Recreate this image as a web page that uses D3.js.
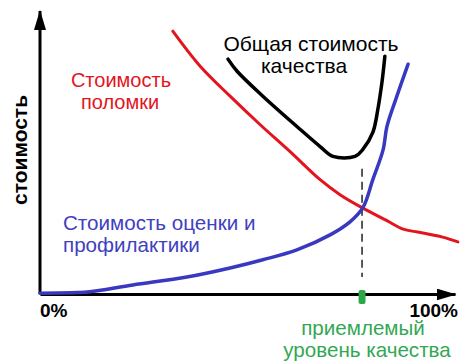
<!DOCTYPE html>
<html>
<head>
<meta charset="utf-8">
<script src="https://cdn.jsdelivr.net/npm/d3@7"></script>
<style>
  body { margin: 0; background: #fff; }
  text { font-family: "Liberation Sans", Arial, sans-serif; }
</style>
</head>
<body>
<svg id="chart" width="474" height="364"></svg>
<script>
// quality level (%) vs cost (relative units)
var failX = [32.0, 38.6, 45.8, 53.0, 60.2, 67.5, 72.3, 77.6, 83.6, 87.5, 91.0, 97.0, 100.7];
var failY = [92.9, 80.5, 69.9, 59.9, 50.4, 40.4, 35.1, 30.5, 25.9, 22.9, 21.9, 20.1, 18.4];

var totalX = [45.3, 47.5, 53.7, 61.9, 67.5, 70.6, 75.9, 77.8, 80.2, 81.4, 82.4, 83.1];
var totalY = [83.0, 78.7, 69.9, 59.2, 52.1, 48.6, 48.6, 51.1, 57.1, 65.2, 74.8, 84.0];

var prevX = [0, 9.0, 12.0, 22.4, 35.4, 45.8, 53.7, 61.9, 69.9, 74.7, 77.8, 80.2, 82.7, 83.6, 86.0, 88.7];
var prevY = [0.3, 0.5, 0.8, 3.2, 6.0, 9.2, 12.1, 15.6, 20.9, 25.5, 30.5, 40.4, 51.1, 59.2, 69.9, 81.2];

var optimumX = 77.6;          // acceptable quality level
var tickLabels = ["0%", "100%"];

var svg = d3.select("#chart");

var x = d3.scaleLinear().domain([0, 100]).range([40, 455]);
var y = d3.scaleLinear().domain([0, 100]).range([294, 11]);

var defs = svg.append("defs");
defs.append("marker")
    .attr("id", "arrow")
    .attr("markerUnits", "userSpaceOnUse")
    .attr("markerWidth", 20).attr("markerHeight", 12)
    .attr("refX", 19).attr("refY", 6)
    .attr("orient", "auto")
  .append("path")
    .attr("d", "M0,0 L20,6 L0,12 Z")
    .attr("fill", "#000");

// axes: only the lines with arrow heads, no ticks
var xAxis = svg.append("g")
    .attr("transform", "translate(0," + y(0) + ")")
    .call(d3.axisBottom(x).tickValues([]).tickSizeOuter(0));
xAxis.select(".domain")
    .attr("stroke", "#000").attr("stroke-width", 3)
    .attr("marker-end", "url(#arrow)");

var yAxis = svg.append("g")
    .attr("transform", "translate(" + x(0) + ",0)")
    .call(d3.axisLeft(y).tickValues([]).tickSizeOuter(0));
yAxis.select(".domain")
    .attr("d", "M0," + y(0) + "V" + y(100))
    .attr("stroke", "#000").attr("stroke-width", 3)
    .attr("marker-end", "url(#arrow)");

var line = d3.line()
    .x(function(d) { return x(d[0]); })
    .y(function(d) { return y(d[1]); })
    .curve(d3.curveCatmullRom.alpha(0.5));

var series = [
  { xs: failX,  ys: failY,  color: "#e3141e", w: 3 },
  { xs: prevX,  ys: prevY,  color: "#3838c0", w: 3.5 },
  { xs: totalX, ys: totalY, color: "#000000", w: 3.5 }
];

// dashed guide at the acceptable level
svg.append("line")
    .attr("x1", x(optimumX)).attr("x2", x(optimumX))
    .attr("y1", y(44.3)).attr("y2", y(6))
    .attr("stroke", "#000").attr("stroke-width", 1.3)
    .attr("stroke-dasharray", "8,5");

series.forEach(function(s) {
  svg.append("path")
    .datum(d3.zip(s.xs, s.ys))
    .attr("d", line)
    .attr("fill", "none")
    .attr("stroke", s.color)
    .attr("stroke-width", s.w)
    .attr("stroke-linecap", "round")
    .attr("stroke-linejoin", "round");
});

// green marker on the x axis
svg.append("rect")
    .attr("x", x(optimumX) - 3.5).attr("y", y(0) - 4)
    .attr("width", 7).attr("height", 14)
    .attr("rx", 2)
    .attr("fill", "#2aa84a");

// tick labels
svg.append("text")
    .attr("x", x(0)).attr("y", 317)
    .style("font-size", "19px").style("font-weight", "bold")
    .text(tickLabels[0]);
svg.append("text")
    .attr("x", 458).attr("y", 317)
    .attr("text-anchor", "end")
    .style("font-size", "19px").style("font-weight", "bold")
    .text(tickLabels[1]);

// y axis title
svg.append("text")
    .attr("transform", "translate(27,150) rotate(-90)")
    .attr("text-anchor", "middle")
    .style("font-size", "21px").style("font-weight", "bold")
    .text("стоимость");

var labels = [
  { lines: ["Стоимость", "поломки"], xs: [121, 120], y: 87, size: 20, anchor: "middle", color: "#e3141e" },
  { lines: ["Общая стоимость", "качества"], xs: [311, 304], y: 51, size: 21, anchor: "middle", color: "#000" },
  { lines: ["Стоимость оценки и", "профилактики"], xs: [63, 63], y: 230, size: 20.6, anchor: "start", color: "#4040c0" },
  { lines: ["приемлемый", "уровень качества"], xs: [363, 367], y: 335, size: 20.6, anchor: "middle", color: "#33a853" }
];

labels.forEach(function(l) {
  var t = svg.append("text")
    .attr("y", l.y)
    .attr("text-anchor", l.anchor)
    .attr("fill", l.color)
    .style("font-size", l.size + "px");
  l.lines.forEach(function(s, i) {
    t.append("tspan")
      .attr("x", l.xs[i]).attr("dy", i ? 21.5 : 0)
      .text(s);
  });
});
</script>
</body>
</html>
